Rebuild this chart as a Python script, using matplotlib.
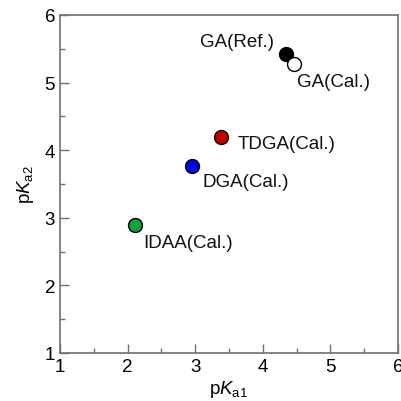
import matplotlib
matplotlib.use("Agg")
import matplotlib.pyplot as plt
from matplotlib.ticker import MultipleLocator

plt.rcParams['font.family'] = ['Liberation Sans', 'DejaVu Sans']
plt.rcParams['mathtext.fontset'] = 'custom'
plt.rcParams['mathtext.rm'] = 'Liberation Sans'
plt.rcParams['mathtext.it'] = 'Liberation Sans:italic'

# data
names = ['GA(Ref.)', 'GA(Cal.)', 'TDGA(Cal.)', 'DGA(Cal.)', 'IDAA(Cal.)']
pka1 = [4.34, 4.46, 3.38, 2.96, 2.11]
pka2 = [5.42, 5.27, 4.20, 3.76, 2.90]
colors = ['black', 'white', '#c00000', '#0000ee', '#10a040']
# label offsets in pixels and alignment
offsets = [(-12, 13, 'right'), (3, -17, 'left'), (17, -7, 'left'),
           (10, -15, 'left'), (8, -18, 'left')]

fig = plt.figure(figsize=(4.01, 4.02), dpi=100)
ax = fig.add_axes([60 / 401, 48 / 402, 338 / 401, 338 / 402])

for x, y, c, name, (dx, dy, ha) in zip(pka1, pka2, colors, names, offsets):
    ax.plot(x, y, 'o', ms=10, mfc=c, mec='black', mew=1.0, zorder=3)
    ax.annotate(name, (x, y), xytext=(dx, dy), textcoords='offset pixels',
                ha=ha, va='center', fontsize=13.5, color='#111111')

ax.set_xlim(1, 6)
ax.set_ylim(1, 6)
ax.xaxis.set_major_locator(MultipleLocator(1))
ax.yaxis.set_major_locator(MultipleLocator(1))
ax.xaxis.set_minor_locator(MultipleLocator(0.5))
ax.yaxis.set_minor_locator(MultipleLocator(0.5))
ax.tick_params(which='both', direction='in', color='#707070', labelsize=13.5,
               top=False, right=False)
ax.tick_params(which='major', length=6.5, width=1)
ax.tick_params(which='minor', length=3.5, width=1)
for s in ax.spines.values():
    s.set_color('#707070')
    s.set_linewidth(1.2)

ax.set_xlabel(r'p$\mathit{K}_{\mathrm{a1}}$', fontsize=13.5, labelpad=2.5)
ax.set_ylabel(r'p$\mathit{K}_{\mathrm{a2}}$', fontsize=13.5, labelpad=6)

fig.savefig('out.png', dpi=100)
